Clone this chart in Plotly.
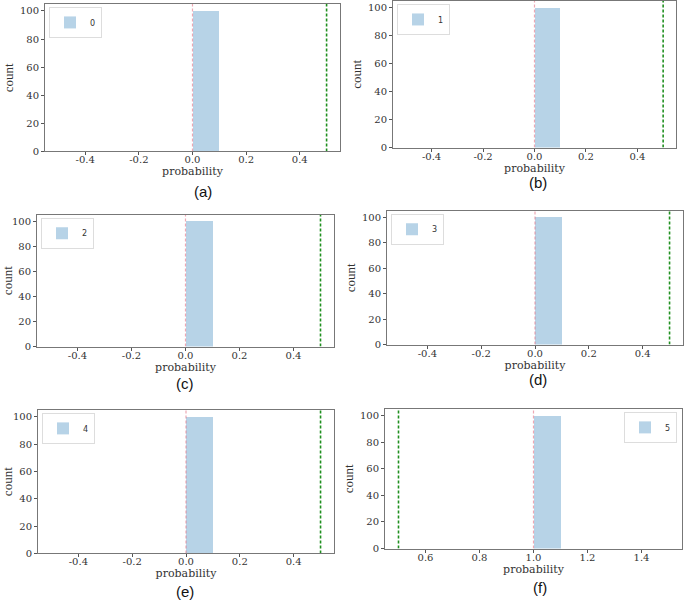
import plotly.graph_objects as go

# ---------------- data ----------------
series_labels = ["0", "1", "2", "3", "4", "5"]
bin_left = [0.0, 0.0, 0.0, 0.0, 0.0, 1.0]
bin_width = 0.1
counts = [100, 100, 100, 100, 100, 100]
pink_line_x = [0.0, 0.0, 0.0, 0.0, 0.0, 1.0]
green_line_x = [0.5, 0.5, 0.5, 0.5, 0.5, 0.5]
captions = ["(a)", "(b)", "(c)", "(d)", "(e)", "(f)"]
x_ranges = [[-0.55, 0.55]] * 5 + [[0.45, 1.55]]
x_tick_vals = [[-0.4, -0.2, 0.0, 0.2, 0.4]] * 5 + [[0.6, 0.8, 1.0, 1.2, 1.4]]
x_tick_text = [["-0.4", "-0.2", "0.0", "0.2", "0.4"]] * 5 + [["0.6", "0.8", "1.0", "1.2", "1.4"]]
y_tick_vals = [0, 20, 40, 60, 80, 100]
y_range = [0, 105]

# ---------------- layout (pixel boxes: left, top, right, bottom) ----------------
W, H = 685, 607
boxes = [
    (45, 4, 340, 153),
    (393, 1, 676, 149),
    (37, 217, 334, 350),
    (387, 213, 683, 348),
    (38, 414, 334, 559),
    (385, 413, 682, 554),
]
caption_pos = [(203, 193), (538, 184), (185, 387), (538, 383), (185, 597), (540, 593)]
legend_right = [False, False, False, False, False, True]

def px(x):
    return min(max(x / W, 0.0), 1.0)

def py(y):
    return min(max(1 - y / H, 0.0), 1.0)

fig = go.Figure()
serif = "DejaVu Serif"
layout = dict(
    width=W, height=H,
    margin=dict(l=0, r=0, t=0, b=0),
    paper_bgcolor="white", plot_bgcolor="white",
    showlegend=True,
)
annotations = []

for i in range(6):
    xa = "x" if i == 0 else f"x{i+1}"
    ya = "y" if i == 0 else f"y{i+1}"
    xkey = "xaxis" if i == 0 else f"xaxis{i+1}"
    ykey = "yaxis" if i == 0 else f"yaxis{i+1}"
    lg = "legend" if i == 0 else f"legend{i+1}"
    l, t, r, b = boxes[i]

    fig.add_trace(go.Bar(
        x=[bin_left[i] + bin_width / 2], y=[counts[i]], width=bin_width,
        marker=dict(color="rgba(31,119,180,0.32)", line=dict(width=0)),
        name=series_labels[i], xaxis=xa, yaxis=ya, legend=lg, showlegend=True,
    ))
    fig.add_trace(go.Scatter(
        x=[pink_line_x[i], pink_line_x[i]], y=y_range, mode="lines",
        line=dict(color="rgba(225,110,130,0.6)", width=1.2, dash="3px,2px"),
        xaxis=xa, yaxis=ya, showlegend=False, hoverinfo="skip",
    ))
    fig.add_trace(go.Scatter(
        x=[green_line_x[i], green_line_x[i]], y=y_range, mode="lines",
        line=dict(color="#1f8f1f", width=1.6, dash="3px,2px"),
        xaxis=xa, yaxis=ya, showlegend=False, hoverinfo="skip",
    ))

    axis_common = dict(
        showgrid=False, zeroline=False, showline=True, mirror=True,
        linecolor="#777", linewidth=1, ticks="outside", ticklen=3,
        tickcolor="#555", tickfont=dict(family=serif, size=10, color="#333"),
    )
    layout[xkey] = dict(
        axis_common, domain=[px(l), px(r)], range=x_ranges[i],
        tickvals=x_tick_vals[i], ticktext=x_tick_text[i],
        anchor=ya, ticklabelstandoff=-4,
        title=dict(text="probability", font=dict(family=serif, size=11, color="#333"), standoff=0),
    )
    layout[ykey] = dict(
        axis_common, domain=[py(b), py(t)], range=y_range,
        tickvals=y_tick_vals, anchor=xa,
        title=dict(text="count", font=dict(family="Liberation Serif", size=13, color="#333"), standoff=3),
    )
    if legend_right[i]:
        lx, xanc = px(r - 5), "right"
    else:
        lx, xanc = px(l + 4), "left"
    layout[lg] = dict(
        x=lx, y=py(t + 3), xanchor=xanc, yanchor="top",
        bgcolor="white", bordercolor="#ddd", borderwidth=1,
        font=dict(family="DejaVu Sans", size=8, color="#333"),
        itemwidth=30, tracegroupgap=0, itemsizing="constant",
    )
    cx, cy = caption_pos[i]
    annotations.append(dict(
        x=px(cx), y=py(cy), xref="paper", yref="paper", text=captions[i],
        showarrow=False, font=dict(family="Liberation Sans", size=15, color="#111"),
        xanchor="center", yanchor="middle",
    ))

layout["annotations"] = annotations
layout["bargap"] = 0
fig.update_layout(**layout)
fig.write_html("out.html", config={"displayModeBar": False},
               post_script="document.body.style.margin='0px';")
